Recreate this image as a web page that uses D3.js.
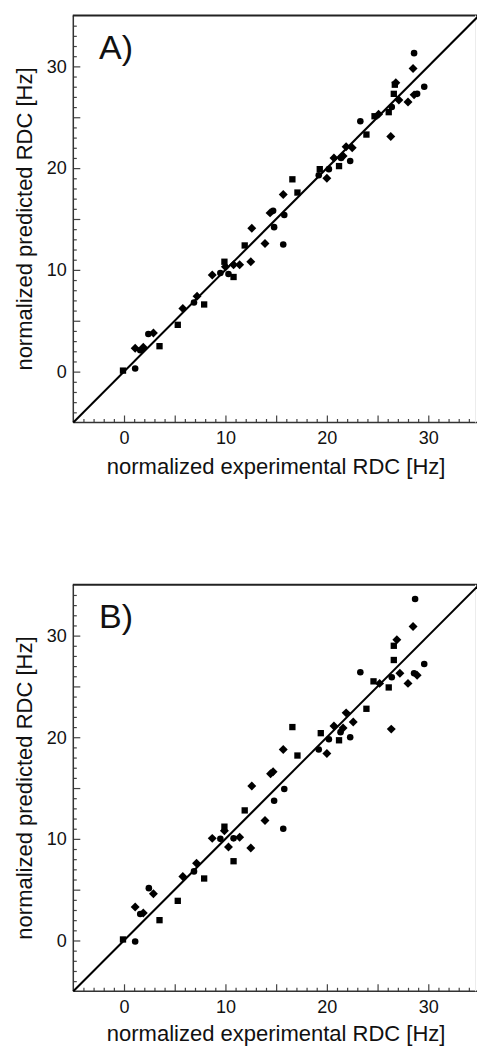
<!DOCTYPE html>
<html>
<head>
<meta charset="utf-8">
<script src="https://cdn.jsdelivr.net/npm/d3@7"></script>
<style>
  html, body { margin: 0; padding: 0; background: #fff; }
  svg { display: block; }
  text { font-family: "Liberation Sans", Arial, Helvetica, sans-serif; fill: #111; }
</style>
</head>
<body>
<svg id="chart" width="477" height="1046"></svg>
<script>
// ---------- Data ----------
const panelLabels = ["A)", "B)"];
const xTitle = "normalized experimental RDC [Hz]";
const yTitle = "normalized predicted RDC [Hz]";
const axisDomain = [-5, 35];
const labelTicks = [0, 10, 20, 30];

// Panel A
const aSquares = [[-0.1,0.1],[3.5,2.5],[5.3,4.6],[7.9,6.6],[9.9,10.8],[10.8,9.3],[11.9,12.4],
  [16.6,18.9],[17.1,17.6],[19.3,19.9],[21.2,20.2],[23.9,23.3],[24.7,25.1],[26.1,25.5],[26.6,27.3],[26.7,28.2]];
const aDiamonds = [[1.1,2.3],[1.9,2.4],[2.9,3.8],[5.8,6.2],[7.2,7.4],[8.7,9.5],[10.0,10.3],[10.8,10.5],
  [11.4,10.5],[12.5,10.8],[12.6,14.1],[13.9,12.6],[14.4,15.6],[15.7,17.4],[20.0,19.0],[20.7,21.0],
  [21.6,21.2],[21.9,22.1],[22.5,22.0],[25.1,25.3],[26.3,23.1],[26.8,28.4],[27.1,26.7],[28.0,26.5],
  [28.5,29.8],[28.6,27.2]];
const aCircles = [[1.1,0.3],[1.6,2.1],[2.4,3.7],[6.9,6.8],[9.5,9.7],[10.3,9.6],[14.7,15.8],[14.8,14.2],
  [15.8,15.4],[15.7,12.5],[19.2,19.3],[20.2,19.9],[21.4,21.0],[22.3,20.7],[23.3,24.6],[26.4,26.0],
  [28.6,31.3],[28.9,27.3],[29.6,28.0]];

// Panel B
const bSquares = [[-0.1,0.1],[3.5,2.0],[5.3,3.9],[7.9,6.1],[9.9,11.2],[10.8,7.8],[11.9,12.8],
  [16.6,21.0],[17.1,18.2],[19.4,20.4],[21.2,19.7],[23.9,22.8],[24.6,25.5],[26.1,24.9],[26.6,27.6],[26.6,29.0]];
const bDiamonds = [[1.1,3.3],[1.9,2.7],[2.9,4.6],[5.8,6.3],[7.15,7.6],[8.7,10.05],[9.9,10.8],[10.3,9.2],
  [11.4,10.15],[12.5,9.1],[12.6,15.2],[13.9,11.8],[14.45,16.4],[14.7,16.6],[15.7,18.8],[20.0,18.4],
  [20.7,21.1],[21.6,20.9],[21.9,22.4],[22.6,21.5],[25.2,25.3],[26.35,20.8],[26.9,29.6],[27.2,26.3],
  [28.0,25.3],[28.5,30.9],[28.9,26.1]];
const bCircles = [[1.1,-0.1],[1.6,2.6],[2.45,5.15],[6.9,6.8],[9.5,10.0],[10.8,10.05],[14.8,13.75],
  [15.8,14.9],[15.7,11.0],[19.2,18.8],[20.2,19.8],[21.35,20.5],[22.3,20.0],[23.3,26.4],[26.4,25.9],
  [28.6,26.3],[28.7,33.6],[29.6,27.2]];

const panels = [
  { label: panelLabels[0], squares: aSquares, diamonds: aDiamonds, circles: aCircles, top: 15.5, bottom: 422.5 },
  { label: panelLabels[1], squares: bSquares, diamonds: bDiamonds, circles: bCircles, top: 584.8, bottom: 991.3 }
];

// ---------- Drawing ----------
const svg = d3.select("#chart");
const left = 73.3, right = 479;
const ink = "#1a1a1a";

panels.forEach(p => {
  const x = d3.scaleLinear().domain(axisDomain).range([left, right]);
  const y = d3.scaleLinear().domain(axisDomain).range([p.bottom, p.top]);
  const g = svg.append("g");

  const minorVals = d3.range(axisDomain[0] + 1, axisDomain[1], 1).filter(v => v % 5 !== 0);
  const majorVals = d3.range(axisDomain[0] + 5, axisDomain[1], 5);
  const fmt = v => labelTicks.includes(v) ? String(v) : "";

  // bottom axis (inward ticks)
  const bx = g.append("g").attr("transform", `translate(0,${p.bottom})`);
  bx.append("g").call(d3.axisBottom(x).tickValues(minorVals).tickSize(-3.5).tickSizeOuter(0).tickFormat(""));
  bx.append("g").call(d3.axisBottom(x).tickValues(majorVals).tickSize(-7).tickSizeOuter(0).tickPadding(9).tickFormat(fmt));
  // left axis (inward ticks)
  const ly = g.append("g").attr("transform", `translate(${left},0)`);
  ly.append("g").call(d3.axisLeft(y).tickValues(minorVals).tickSize(-3.5).tickSizeOuter(0).tickFormat(""));
  ly.append("g").call(d3.axisLeft(y).tickValues(majorVals).tickSize(-7).tickSizeOuter(0).tickPadding(6.5).tickFormat(fmt));

  g.selectAll(".domain").remove();
  g.selectAll(".tick line").attr("stroke", "#444").attr("stroke-width", 1.2);
  g.selectAll(".tick text").attr("font-size", 18).attr("fill", ink)
    .style("font-family", '"Liberation Sans", Arial, Helvetica, sans-serif');

  // frame lines
  g.append("line").attr("x1", left).attr("x2", left).attr("y1", p.top).attr("y2", p.bottom)
    .attr("stroke", "#333").attr("stroke-width", 1.5);
  g.append("line").attr("x1", left).attr("x2", 477).attr("y1", p.bottom).attr("y2", p.bottom)
    .attr("stroke", "#333").attr("stroke-width", 1.5);
  g.append("line").attr("x1", left - 0.5).attr("x2", 477).attr("y1", p.top).attr("y2", p.top)
    .attr("stroke", "#222").attr("stroke-width", 2);
  g.append("line").attr("x1", 475.5).attr("x2", 475.5).attr("y1", p.top).attr("y2", p.bottom)
    .attr("stroke", "#ececec").attr("stroke-width", 1);

  // diagonal y = x
  g.append("line")
    .attr("x1", x(axisDomain[0])).attr("y1", y(axisDomain[0]))
    .attr("x2", x(axisDomain[1])).attr("y2", y(axisDomain[1]))
    .attr("stroke", "#000").attr("stroke-width", 2);

  // markers
  const sq = d3.symbol().type(d3.symbolSquare).size(40);
  const ci = d3.symbol().type(d3.symbolCircle).size(34);
  g.append("g").selectAll("path").data(p.squares).join("path")
    .attr("d", sq).attr("transform", d => `translate(${x(d[0])},${y(d[1])})`).attr("fill", "#000");
  g.append("g").selectAll("path").data(p.diamonds).join("path")
    .attr("d", sq).attr("transform", d => `translate(${x(d[0])},${y(d[1])}) rotate(45)`).attr("fill", "#000");
  g.append("g").selectAll("path").data(p.circles).join("path")
    .attr("d", ci).attr("transform", d => `translate(${x(d[0])},${y(d[1])})`).attr("fill", "#000");

  // panel label
  g.append("text").attr("x", 99).attr("y", p.top + 43).attr("font-size", 34).attr("fill", ink).text(p.label);

  // axis titles
  g.append("text").attr("x", (left + right) / 2).attr("y", Math.min(p.bottom + 51.5, 1040.5))
    .attr("text-anchor", "middle").attr("font-size", 22).attr("fill", ink).text(xTitle);
  g.append("text")
    .attr("transform", `translate(31.5,${(p.top + p.bottom) / 2}) rotate(-90)`)
    .attr("text-anchor", "middle").attr("font-size", 22).attr("fill", ink).text(yTitle);
});
</script>
</body>
</html>
